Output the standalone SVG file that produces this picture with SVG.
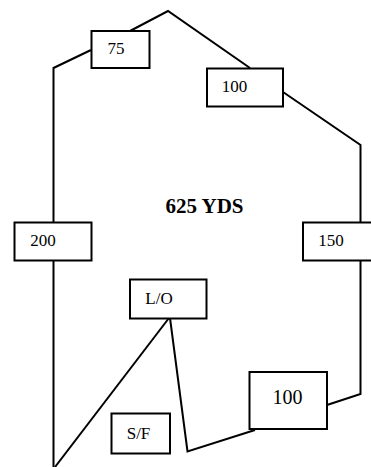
<svg xmlns="http://www.w3.org/2000/svg" width="371" height="467" viewBox="0 0 371 467">
<style>
.box{fill:#fff;stroke:#000;stroke-width:2}
.ln{fill:none;stroke:#000;stroke-width:2}
text{font-family:"Liberation Serif","Times New Roman",serif;font-size:17px;fill:#000;text-anchor:middle}
.big{font-size:20px}
.bold{font-weight:bold;font-size:21px}
</style>
<rect width="371" height="467" fill="#fff"/>
<g id="connectors">
<polyline class="ln" points="53.5,467 53.5,68 91,50"/>
<polyline class="ln" points="130,31 168,11 250,68"/>
<polyline class="ln" points="283,92 360.5,145 360.5,394 327,405"/>
<line class="ln" x1="169" y1="318" x2="55" y2="467"/>
<polyline class="ln" points="170,318 187.5,451.5 255,430"/>
</g>
<g id="n75"><rect class="box" x="91.5" y="31" width="58" height="37"/><text x="116" y="54">75</text></g>
<g id="n100top"><rect class="box" x="207" y="68.5" width="76" height="38"/><text x="234.5" y="92">100</text></g>
<g id="n200"><rect class="box" x="14.5" y="222.5" width="77" height="38"/><text x="43" y="246">200</text></g>
<g id="n150"><rect class="box" x="303" y="222.5" width="70" height="38"/><text x="331" y="246">150</text></g>
<g id="nLO"><rect class="box" x="130" y="279.5" width="76.5" height="39"/><text x="159" y="304">L/O</text></g>
<g id="nSF"><rect class="box" x="111.5" y="413.5" width="58.5" height="40"/><text x="138.5" y="438.5">S/F</text></g>
<g id="n100bot"><rect class="box" x="249.5" y="372" width="77.5" height="57"/><text class="big" x="287.5" y="403.5">100</text></g>
<g id="title"><text class="bold" x="204.5" y="212.5">625 YDS</text></g>
</svg>
